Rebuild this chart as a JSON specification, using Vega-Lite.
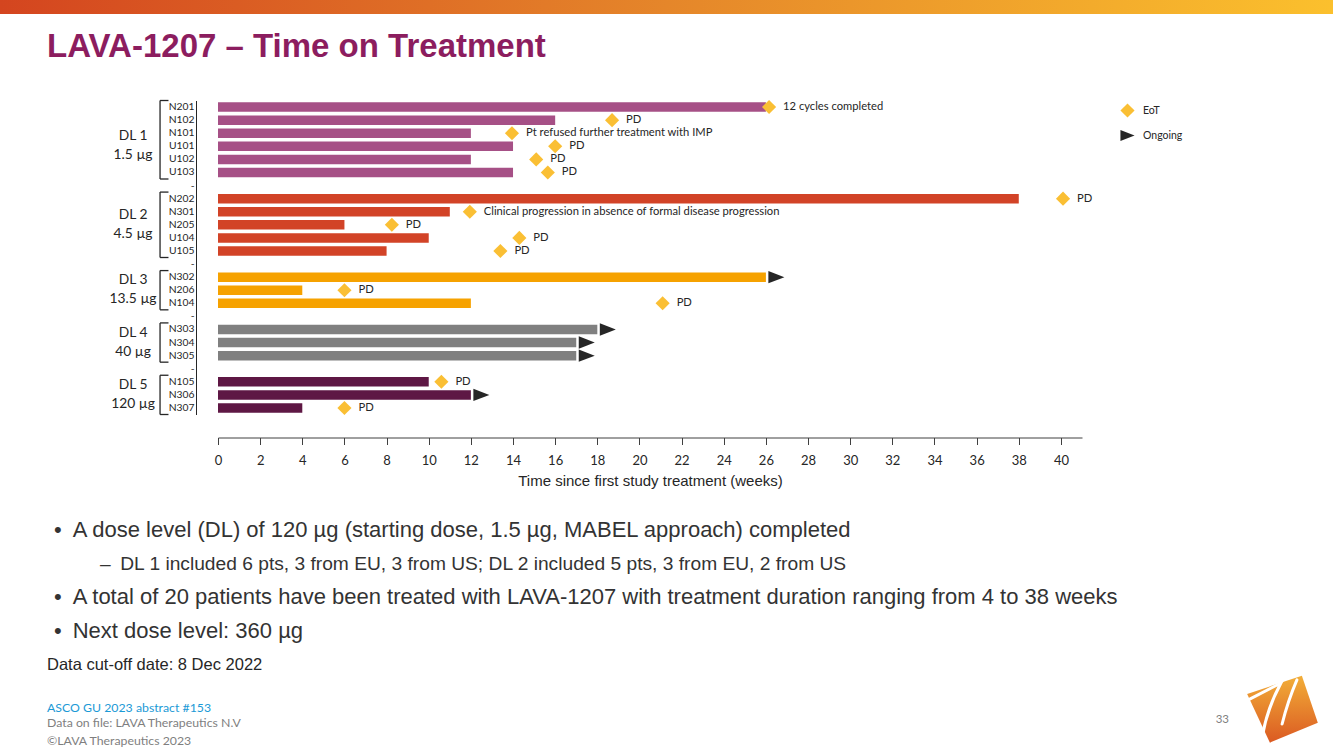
{
  "$schema": "https://vega.github.io/schema/vega-lite/v6.json",
  "padding": 0,
  "background": "white",
  "spacing": 86.5,
  "bounds": "flush",
  "config": {"view": {"stroke": null}, "font": "Lato"},
  "datasets": {
    "patients": [
      {"id": "N201", "group": "DL 1", "end": 26, "eot": 26.15, "note": "12 cycles completed", "ongoing": false},
      {"id": "N102", "group": "DL 1", "end": 16, "eot": 18.7, "note": "PD", "ongoing": false},
      {"id": "N101", "group": "DL 1", "end": 12, "eot": 13.95, "note": "Pt refused further treatment with IMP", "ongoing": false},
      {"id": "U101", "group": "DL 1", "end": 14, "eot": 16.0, "note": "PD", "ongoing": false},
      {"id": "U102", "group": "DL 1", "end": 12, "eot": 15.1, "note": "PD", "ongoing": false},
      {"id": "U103", "group": "DL 1", "end": 14, "eot": 15.65, "note": "PD", "ongoing": false},
      {"id": "N202", "group": "DL 2", "end": 38, "eot": 40.1, "note": "PD", "ongoing": false},
      {"id": "N301", "group": "DL 2", "end": 11, "eot": 11.95, "note": "Clinical progression in absence of formal disease progression", "ongoing": false},
      {"id": "N205", "group": "DL 2", "end": 6, "eot": 8.25, "note": "PD", "ongoing": false},
      {"id": "U104", "group": "DL 2", "end": 10, "eot": 14.3, "note": "PD", "ongoing": false},
      {"id": "U105", "group": "DL 2", "end": 8, "eot": 13.4, "note": "PD", "ongoing": false},
      {"id": "N302", "group": "DL 3", "end": 26, "eot": null, "note": null, "ongoing": true},
      {"id": "N206", "group": "DL 3", "end": 4, "eot": 6.0, "note": "PD", "ongoing": false},
      {"id": "N104", "group": "DL 3", "end": 12, "eot": 21.1, "note": "PD", "ongoing": false},
      {"id": "N303", "group": "DL 4", "end": 18, "eot": null, "note": null, "ongoing": true},
      {"id": "N304", "group": "DL 4", "end": 17, "eot": null, "note": null, "ongoing": true},
      {"id": "N305", "group": "DL 4", "end": 17, "eot": null, "note": null, "ongoing": true},
      {"id": "N105", "group": "DL 5", "end": 10, "eot": 10.6, "note": "PD", "ongoing": false},
      {"id": "N306", "group": "DL 5", "end": 12, "eot": null, "note": null, "ongoing": true},
      {"id": "N307", "group": "DL 5", "end": 4, "eot": 6.0, "note": "PD", "ongoing": false}
    ],
    "groups": [
      {"group": "DL 1", "label": ["DL 1", "1.5 µg"], "first": "N201", "last": "U103", "mid": "U101"},
      {"group": "DL 2", "label": ["DL 2", "4.5 µg"], "first": "N202", "last": "U105", "mid": "N205"},
      {"group": "DL 3", "label": ["DL 3", "13.5 µg"], "first": "N302", "last": "N104", "mid": "N206"},
      {"group": "DL 4", "label": ["DL 4", "40 µg"], "first": "N303", "last": "N305", "mid": "N304"},
      {"group": "DL 5", "label": ["DL 5", "120 µg"], "first": "N105", "last": "N307", "mid": "N306"}
    ],
    "notes": [
      {"line": 1, "level": "bullet", "text": "•\u2002A dose level (DL) of 120 µg (starting dose, 1.5 µg, MABEL approach) completed"},
      {"line": 2, "level": "sub", "text": "–\u2002DL 1 included 6 pts, 3 from EU, 3 from US; DL 2 included 5 pts, 3 from EU, 2 from US"},
      {"line": 3, "level": "bullet", "text": "•\u2002A total of 20 patients have been treated with LAVA-1207 with treatment duration ranging from 4 to 38 weeks"},
      {"line": 4, "level": "bullet", "text": "•\u2002Next dose level: 360 µg"},
      {"line": 5, "level": "note", "text": "Data cut-off date: 8 Dec 2022"}
    ]
  },
  "vconcat": [
    {
      "width": 1333,
      "height": 14,
      "data": {"values": [{"band": "header"}]},
      "mark": {
        "type": "rect",
        "color": {
          "gradient": "linear", "x1": 0, "y1": 0, "x2": 1, "y2": 0,
          "stops": [
            {"offset": 0, "color": "#D4451F"},
            {"offset": 0.5, "color": "#E5862A"},
            {"offset": 1, "color": "#FBC02D"}
          ]
        }
      },
      "encoding": {},
      "title": {
        "text": "LAVA-1207 – Time on Treatment",
        "orient": "bottom",
        "anchor": "start",
        "frame": "group",
        "dx": 47,
        "offset": 17,
        "font": "Liberation Sans",
        "fontSize": 33,
        "fontWeight": "bold",
        "color": "#8C1D5F"
      }
    },
    {
      "width": 1333,
      "height": 314,
      "layer": [
        {
          "data": {"name": "patients"},
          "mark": {"type": "bar", "size": 9.5},
          "encoding": {
            "y": {
              "field": "id", "type": "nominal",
              "scale": {
                "type": "band",
                "domain": ["N201", "N102", "N101", "U101", "U102", "U103", "gap1", "N202", "N301", "N205", "U104", "U105", "gap2", "N302", "N206", "N104", "gap3", "N303", "N304", "N305", "gap4", "N105", "N306", "N307"],
                "paddingInner": 0, "paddingOuter": 0
              },
              "axis": {
                "orient": "left", "offset": -196, "ticks": false, "labelPadding": 2,
                "labelFont": "Lato", "labelFontSize": 10.3, "labelColor": "#262626",
                "domainColor": "#262626", "domainWidth": 1, "title": null,
                "labelExpr": "indexof(datum.value, 'gap') === 0 ? '-' : datum.value"
              }
            },
            "x": {
              "field": "end", "type": "quantitative",
              "scale": {"domain": [0, 41], "range": [218, 1082], "nice": false, "zero": false},
              "axis": {
                "values": [0, 2, 4, 6, 8, 10, 12, 14, 16, 18, 20, 22, 24, 26, 28, 30, 32, 34, 36, 38, 40],
                "offset": 23, "tickSize": 7, "tickColor": "#404040", "domainColor": "#404040",
                "labelFont": "Lato", "labelFontSize": 13, "labelColor": "#262626", "labelPadding": 10,
                "labelFlush": false, "grid": false,
                "title": "Time since first study treatment (weeks)",
                "titleFont": "Liberation Sans", "titleFontSize": 15, "titleFontWeight": "normal",
                "titleColor": "#262626", "titlePadding": 6
              }
            },
            "color": {
              "field": "group", "type": "nominal",
              "scale": {"domain": ["DL 1", "DL 2", "DL 3", "DL 4", "DL 5"], "range": ["#A65086", "#D24327", "#F6A200", "#808080", "#5E1744"]},
              "legend": null
            }
          }
        },
        {
          "data": {"name": "patients"},
          "transform": [{"filter": "isValid(datum.eot)"}],
          "mark": {"type": "point", "filled": true, "size": 200, "opacity": 1, "strokeWidth": 0},
          "encoding": {
            "x": {"field": "eot", "type": "quantitative"},
            "y": {"field": "id", "type": "nominal"},
            "shape": {
              "datum": "EoT",
              "scale": {"domain": ["EoT", "Ongoing"], "range": ["diamond", "M-1,-0.78L1,0L-1,0.78Z"]},
              "legend": {"title": null, "orient": "none", "legendX": 1120, "legendY": 103, "symbolSize": 200, "labelFont": "Lato", "labelFontSize": 10.5, "labelColor": "#262626", "rowPadding": 10, "labelOffset": 8, "symbolStrokeWidth": 0}
            },
            "fill": {
              "datum": "EoT",
              "scale": {"domain": ["EoT", "Ongoing"], "range": ["#FABF34", "#262626"]},
              "legend": {"title": null, "orient": "none", "legendX": 1120, "legendY": 103, "symbolSize": 200, "labelFont": "Lato", "labelFontSize": 10.5, "labelColor": "#262626", "rowPadding": 10, "labelOffset": 8, "symbolStrokeWidth": 0}
            }
          }
        },
        {
          "data": {"name": "patients"},
          "transform": [{"filter": "datum.ongoing"}],
          "mark": {"type": "point", "filled": true, "size": 256, "opacity": 1, "strokeWidth": 0, "xOffset": 10.5},
          "encoding": {
            "x": {"field": "end", "type": "quantitative"},
            "y": {"field": "id", "type": "nominal"},
            "shape": {"datum": "Ongoing"},
            "fill": {"datum": "Ongoing"}
          }
        },
        {
          "data": {"name": "patients"},
          "transform": [{"filter": "isValid(datum.note)"}],
          "mark": {"type": "text", "align": "left", "baseline": "middle", "dx": 14, "font": "Lato", "fontSize": 11.2, "color": "#262626"},
          "encoding": {
            "x": {"field": "eot", "type": "quantitative"},
            "y": {"field": "id", "type": "nominal"},
            "text": {"field": "note"}
          }
        },
        {
          "data": {"name": "groups"},
          "mark": {"type": "rule", "color": "#262626", "strokeWidth": 1.3},
          "encoding": {
            "x": {"datum": -2.75, "type": "quantitative"},
            "y": {"field": "first", "type": "nominal", "bandPosition": 0},
            "y2": {"field": "last", "bandPosition": 1}
          }
        },
        {
          "data": {"name": "groups"},
          "mark": {"type": "rule", "color": "#262626", "strokeWidth": 1.3},
          "encoding": {
            "x": {"datum": -2.75, "type": "quantitative"},
            "x2": {"datum": -2.35},
            "y": {"field": "first", "type": "nominal", "bandPosition": 0}
          }
        },
        {
          "data": {"name": "groups"},
          "mark": {"type": "rule", "color": "#262626", "strokeWidth": 1.3},
          "encoding": {
            "x": {"datum": -2.75, "type": "quantitative"},
            "x2": {"datum": -2.35},
            "y": {"field": "last", "type": "nominal", "bandPosition": 1}
          }
        },
        {
          "data": {"name": "groups"},
          "mark": {"type": "text", "align": "center", "baseline": "middle", "dy": -10, "font": "Lato", "fontSize": 13.8, "lineHeight": 19, "color": "#262626"},
          "encoding": {
            "x": {"datum": -4.03, "type": "quantitative"},
            "y": {"field": "mid", "type": "nominal"},
            "text": {"field": "label"}
          }
        }
      ]
    },
    {
      "width": 1333,
      "height": 192.6,
      "title": {
        "text": "ASCO GU 2023 abstract #153",
        "subtitle": ["Data on file: LAVA Therapeutics N.V", "©LAVA Therapeutics 2023"],
        "orient": "bottom",
        "anchor": "start",
        "frame": "group",
        "dx": 47,
        "offset": -42.5,
        "font": "Lato",
        "fontSize": 12.3,
        "fontWeight": "normal",
        "color": "#1B9AD6",
        "subtitleFont": "Lato",
        "subtitleFontSize": 12.3,
        "subtitleColor": "#7F7F7F",
        "subtitleLineHeight": 18,
        "subtitlePadding": 3.5
      },
      "layer": [
        {
          "data": {"name": "notes"},
          "transform": [{"filter": "datum.level === 'bullet'"}],
          "mark": {"type": "text", "align": "left", "baseline": "middle", "dx": 54, "font": "Liberation Sans", "fontSize": 22, "color": "#333333"},
          "encoding": {
            "y": {"field": "line", "type": "ordinal", "scale": {"type": "point", "domain": [1, 2, 3, 4, 5], "padding": 0.853}, "axis": null},
            "x": {"datum": 0, "type": "quantitative", "scale": {"domain": [0, 1], "nice": false, "zero": false}, "axis": null},
            "text": {"field": "text"}
          }
        },
        {
          "data": {"name": "notes"},
          "transform": [{"filter": "datum.level === 'sub'"}],
          "mark": {"type": "text", "align": "left", "baseline": "middle", "dx": 100, "font": "Liberation Sans", "fontSize": 19.2, "color": "#333333"},
          "encoding": {
            "y": {"field": "line", "type": "ordinal"},
            "x": {"datum": 0, "type": "quantitative"},
            "text": {"field": "text"}
          }
        },
        {
          "data": {"name": "notes"},
          "transform": [{"filter": "datum.level === 'note'"}],
          "mark": {"type": "text", "align": "left", "baseline": "middle", "dx": 47, "font": "Liberation Sans", "fontSize": 16.5, "color": "#262626"},
          "encoding": {
            "y": {"field": "line", "type": "ordinal"},
            "x": {"datum": 0, "type": "quantitative"},
            "text": {"field": "text"}
          }
        },
        {
          "data": {"values": [{"page": "33"}]},
          "mark": {"type": "text", "align": "right", "baseline": "middle", "dx": -104, "dy": 55, "font": "Lato", "fontSize": 11.5, "color": "#7F7F7F"},
          "encoding": {
            "y": {"datum": 5, "type": "ordinal"},
            "x": {"datum": 1, "type": "quantitative"},
            "text": {"field": "page"}
          }
        },
        {
          "data": {"values": [{"logo": "LAVA"}]},
          "mark": {
            "type": "point", "filled": true, "opacity": 1, "size": 5776, "strokeWidth": 0,
            "shape": "M-0.97,-0.39L0.47,-0.87L0.89,0.37L-0.37,0.89Z",
            "xOffset": -49, "yOffset": 44,
            "fill": {"gradient": "linear", "x1": 0, "y1": 0, "x2": 0, "y2": 1, "stops": [{"offset": 0, "color": "#F2AE38"}, {"offset": 1, "color": "#DB5A22"}]}
          },
          "encoding": {
            "y": {"datum": 5, "type": "ordinal"},
            "x": {"datum": 1, "type": "quantitative"}
          }
        },
        {
          "data": {"values": [{"logo": "LAVA"}]},
          "mark": {
            "type": "point", "filled": false, "opacity": 1, "size": 5776, "strokeWidth": 3, "stroke": "white", "strokeCap": "round",
            "shape": "M-0.89,-0.26L-0.08,-0.68Q-0.45,0.0,-0.58,0.77M0.34,-0.76Q0.1,-0.2,-0.05,0.4",
            "xOffset": -49, "yOffset": 44
          },
          "encoding": {
            "y": {"datum": 5, "type": "ordinal"},
            "x": {"datum": 1, "type": "quantitative"}
          }
        }
      ]
    }
  ]
}
